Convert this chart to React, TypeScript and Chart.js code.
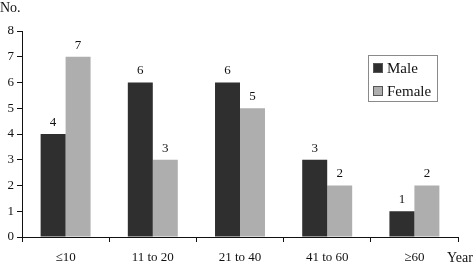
import React, { useEffect, useRef } from "react";
import { Chart, registerables } from "chart.js";

Chart.register(...registerables);

const categories = ["≤10", "11 to 20", "21 to 40", "41 to 60", "≥60"];
const maleValues = [4, 6, 6, 3, 1];
const femaleValues = [7, 3, 5, 2, 2];
const seriesNames = ["Male", "Female"];
const yTicks = [0, 1, 2, 3, 4, 5, 6, 7, 8];

const FONT = "'Liberation Serif', 'Times New Roman', serif";
const MALE_COLOR = "#2f2f2f";
const FEMALE_COLOR = "#aeaeae";

const extrasPlugin = {
  id: "extras",
  afterDatasetsDraw(chart: any) {
    const ctx = chart.ctx;
    ctx.save();
    ctx.fillStyle = "#111";
    ctx.font = `13px ${FONT}`;
    ctx.textAlign = "center";
    ctx.textBaseline = "bottom";
    chart.data.datasets.forEach((ds: any, di: number) => {
      const meta = chart.getDatasetMeta(di);
      meta.data.forEach((bar: any, i: number) => {
        ctx.fillText(String(ds.data[i]), bar.x, bar.y - 5);
      });
    });
    // axis titles
    ctx.font = `14px ${FONT}`;
    ctx.textAlign = "left";
    ctx.textBaseline = "alphabetic";
    ctx.fillText("No.", 0, 12);
    ctx.fillText("Year", 447, 262);
    // legend
    const lx = 368, ly = 55, lw = 69, lh = 46;
    ctx.strokeStyle = "#8a8a8a";
    ctx.lineWidth = 1;
    ctx.strokeRect(lx + 0.5, ly + 0.5, lw, lh);
    const colors = [MALE_COLOR, FEMALE_COLOR];
    ctx.font = `15px ${FONT}`;
    seriesNames.forEach((name, i) => {
      const sy = 63 + i * 23;
      ctx.fillStyle = colors[i];
      ctx.fillRect(373, sy, 10, 10);
      ctx.strokeStyle = "#555";
      ctx.strokeRect(373.5, sy + 0.5, 9, 9);
      ctx.fillStyle = "#111";
      ctx.fillText(name, 387, sy + 10);
    });
    ctx.restore();
  },
};

export default function App() {
  const ref = useRef<HTMLCanvasElement>(null);
  useEffect(() => {
    if (!ref.current) return;
    const chart = new Chart(ref.current, {
      type: "bar",
      data: {
        labels: categories,
        datasets: [
          {
            label: seriesNames[0],
            data: maleValues,
            backgroundColor: MALE_COLOR,
            barPercentage: 1,
            categoryPercentage: 0.573,
          },
          {
            label: seriesNames[1],
            data: femaleValues,
            backgroundColor: FEMALE_COLOR,
            barPercentage: 1,
            categoryPercentage: 0.573,
          },
        ],
      },
      options: {
        animation: false,
        responsive: false,
        maintainAspectRatio: false,
        layout: { padding: { top: 31, right: 16, left: 0, bottom: 0 } },
        plugins: { legend: { display: false }, tooltip: { enabled: false } },
        scales: {
          x: {
            offset: true,
            grid: {
              offset: true,
              drawOnChartArea: false,
              drawTicks: true,
              tickLength: 5,
              color: "#111",
            },
            border: { display: true, color: "#111", width: 1 },
            ticks: {
              color: "#111",
              font: { family: FONT, size: 13 },
              padding: 8,
              maxRotation: 0,
              autoSkip: false,
            },
            afterFit(scale: any) {
              scale.height = 27;
            },
          },
          y: {
            min: 0,
            max: 8,
            afterBuildTicks(scale: any) {
              scale.ticks = yTicks.map((v) => ({ value: v }));
            },
            grid: {
              drawOnChartArea: false,
              drawTicks: true,
              tickLength: 5,
              color: "#111",
            },
            border: { display: true, color: "#111", width: 1 },
            ticks: {
              color: "#111",
              font: { family: FONT, size: 13 },
              padding: 3,
            },
            afterFit(scale: any) {
              scale.width = 22;
            },
          },
        },
      },
      plugins: [extrasPlugin],
    });
    return () => chart.destroy();
  }, []);
  return (
    <div style={{ position: "fixed", left: 0, top: 0, width: 474, height: 264, background: "#fff" }}>
      <canvas ref={ref} width={474} height={264} style={{ width: 474, height: 264 }} />
    </div>
  );
}
